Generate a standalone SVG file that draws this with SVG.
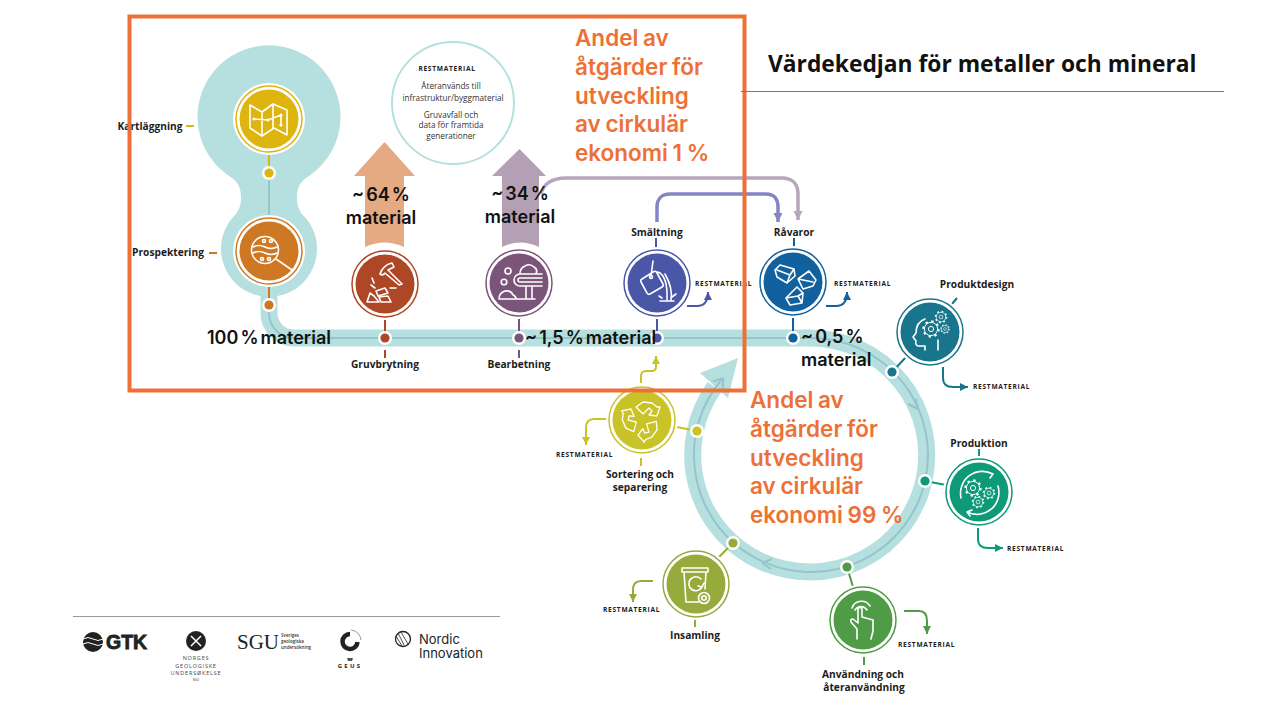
<svg xmlns="http://www.w3.org/2000/svg" width="1280" height="720" viewBox="0 0 1280 720">
<style>
text{font-family:"Open Sans","Liberation Sans",sans-serif}
.lb{font-weight:700;font-size:10.2px;fill:#1c1c1c;text-anchor:middle}
.rm{font-weight:700;font-size:6.6px;letter-spacing:.72px;fill:#1c1c1c}
.big{font-family:Inter,"Liberation Sans",sans-serif;font-weight:600;font-size:18px;word-spacing:-2.5px;fill:#111}
.or{font-family:Inter,"Liberation Sans",sans-serif;font-weight:600;font-size:22.5px;word-spacing:-1px;fill:#ED7136}
.sm{font-size:8.2px;fill:#333;text-anchor:middle}
.ic{fill:none;stroke:#fff;stroke-width:1.6;stroke-linejoin:round;stroke-linecap:round}
.l{fill:none;stroke-width:2;stroke-linecap:butt}
.halo{fill:#fff}
.logo{fill:#222}
</style>
<defs>
<g id="gear"><circle r="6.6" fill="none" stroke="#fff" stroke-width="1"/><circle r="7.7" fill="none" stroke="#fff" stroke-width="2" stroke-dasharray="2.4 3.64"/><circle r="2.600" fill="none" stroke="#fff" stroke-width="1"/></g>
<path id="recy" d="M636 407L643 402L652 403L657 407L660 407L657 416L649 415L652 411L649 408L643 414Z" fill="none" stroke="#fff" stroke-width="1.300" stroke-linejoin="round"/>
<marker id="mB" markerUnits="userSpaceOnUse" markerWidth="10" markerHeight="10" refX="8" refY="5" orient="auto"><path d="M0 1L8 5L0 9Z" fill="#4A56A6"/></marker>
<marker id="mD" markerUnits="userSpaceOnUse" markerWidth="10" markerHeight="10" refX="8" refY="5" orient="auto"><path d="M0 1L8 5L0 9Z" fill="#12619F"/></marker>
<marker id="mT" markerUnits="userSpaceOnUse" markerWidth="10" markerHeight="10" refX="8" refY="5" orient="auto"><path d="M0 1L8 5L0 9Z" fill="#18758B"/></marker>
<marker id="mG" markerUnits="userSpaceOnUse" markerWidth="10" markerHeight="10" refX="8" refY="5" orient="auto"><path d="M0 1L8 5L0 9Z" fill="#0E9A78"/></marker>
<marker id="mN" markerUnits="userSpaceOnUse" markerWidth="10" markerHeight="10" refX="8" refY="5" orient="auto"><path d="M0 1L8 5L0 9Z" fill="#509C46"/></marker>
<marker id="mO" markerUnits="userSpaceOnUse" markerWidth="10" markerHeight="10" refX="8" refY="5" orient="auto"><path d="M0 1L8 5L0 9Z" fill="#96AB3B"/></marker>
<marker id="mY" markerUnits="userSpaceOnUse" markerWidth="10" markerHeight="10" refX="8" refY="5" orient="auto"><path d="M0 1L8 5L0 9Z" fill="#C8C326"/></marker>
<marker id="mL" markerUnits="userSpaceOnUse" markerWidth="12" markerHeight="12" refX="9" refY="6" orient="auto"><path d="M0 1.500L9 6L0 10.500Z" fill="#8584C4"/></marker>
<marker id="mM" markerUnits="userSpaceOnUse" markerWidth="12" markerHeight="12" refX="9" refY="6" orient="auto"><path d="M0 1.500L9 6L0 10.500Z" fill="#B7A5BD"/></marker>
</defs>

<rect width="1280" height="720" fill="#fff"/>

<g id="band">
<path d="M232 178C240 184 241 191 241 198C241 205 239 210 236 214A48 48 0 1 0 302 214C299 210 297 205 297 198C297 191 298 184 306 178A71.5 71.5 0 1 0 232 178Z" fill="#B5E0DF"/>
<path d="M269 285V313A25 25 0 0 0 294 338H810A117 117 0 1 1 714.5 387" fill="none" stroke="#B5E0DF" stroke-width="17"/>
<path d="M738 358L700 373L728 398Z" fill="#B5E0DF"/>
<path d="M269 172V230M269 285V313A25 25 0 0 0 294 338H810A117 117 0 1 1 722 379" fill="none" stroke="#97C3CA" stroke-width="2"/>
<path d="M723.500 378L713 381.500M723.500 378L722.500 389" fill="none" stroke="#97C3CA" stroke-width="2"/>
<path d="M762 563L772 559M762 563L771 569M918 409L915.500 399M918 409L908 404" fill="none" stroke="#97C3CA" stroke-width="2"/>
</g>

<g id="connectors">
<path d="M541 194C543 184 552 178 566 178H782C792 178 798 184 798 194V220" fill="none" stroke="#B7A5BD" stroke-width="3.500" marker-end="url(#mM)"/>
<path d="M657 222V207C657 199 662 194 670 194H766C774 194 778 199 778 207V222" fill="none" stroke="#8584C4" stroke-width="3.500" marker-end="url(#mL)"/>
<path class="l" stroke="#4A56A6" d="M687 306H697C704 306 708 302 708 292" marker-end="url(#mB)"/>
<path class="l" stroke="#12619F" d="M826 306H836C843 306 847 302 847 292" marker-end="url(#mD)"/>
<path class="l" stroke="#18758B" d="M943 367V378C943 384 947 387 953 387H968" marker-end="url(#mT)"/>
<path class="l" stroke="#0E9A78" d="M978 528V539C978 545 982 548 988 548H1003" marker-end="url(#mG)"/>
<path class="l" stroke="#509C46" d="M904 611H919C925 611 927 615 927 621V634" marker-end="url(#mN)"/>
<path class="l" stroke="#96AB3B" d="M653 581H641C636 581 633 584 633 590V602" marker-end="url(#mO)"/>
<path class="l" stroke="#C8C326" d="M607 419H594C589 419 586 422 586 428V445" marker-end="url(#mY)"/>
<path class="l" stroke="#C8C326" d="M641 383V376C641 373 643 371 646 371H652C655 371 656 369 656 366V356" marker-end="url(#mY)"/>
</g>

<g id="arrow-64"><path d="M384.500 142L415 176H404V247Q385 238 365 247V176H354Z" fill="#E5AA82"/></g>
<g id="arrow-34"><path d="M519.500 149L546 176H539V247Q520 238 502 247V176H492Z" fill="#B3A0B4"/></g>

<g id="restmaterial-info">
<circle cx="453" cy="103" r="61" fill="#fff" stroke="#B5E0DF" stroke-width="2"/>
<text class="rm" x="447" y="71" text-anchor="middle">RESTMATERIAL</text>
<text class="sm" x="451" y="89">Återanvänds till</text>
<text class="sm" x="453" y="101">infrastruktur/byggmaterial</text>
<text class="sm" x="451" y="118">Gruvavfall och</text>
<text class="sm" x="451" y="128">data för framtida</text>
<text class="sm" x="451" y="139">generationer</text>
</g>

<g id="node-kartlaggning">
<path class="l" stroke="#DEB40E" d="M269 152V173M186 126H194"/>
<circle class="halo" cx="269" cy="173" r="7"/><circle cx="269" cy="173" r="4.600" fill="#DEB40E"/>
<circle class="halo" cx="269" cy="119" r="36"/><circle cx="269" cy="119" r="33" fill="none" stroke="#DEB40E" stroke-width="1.500"/><circle cx="269" cy="119" r="29.500" fill="#DEB40E"/>
<path class="ic" d="M250 105L262 112L273 104L287 110V135L274 128L262 136L250 128ZM262 112V136M273 104V128M254 119L268 120L281 115V125"/>
<circle cx="254" cy="119" r="1.600" fill="#fff"/><circle cx="268" cy="120" r="1.600" fill="#fff"/><circle cx="281" cy="115" r="1.600" fill="#fff"/><circle cx="281" cy="125" r="1.600" fill="#fff"/>
<text class="lb" x="150" y="130">Kartläggning</text>
</g>

<g id="node-prospektering">
<path class="l" stroke="#CF7823" d="M269 285V304M209 253H217"/>
<circle class="halo" cx="269" cy="305" r="7"/><circle cx="269" cy="305" r="4.600" fill="#CF7823"/>
<circle class="halo" cx="269" cy="251" r="36"/><circle cx="269" cy="251" r="33" fill="none" stroke="#CF7823" stroke-width="1.500"/><circle cx="269" cy="251" r="29.500" fill="#CF7823"/>
<circle class="ic" cx="265" cy="250" r="13.500" stroke-width="2"/>
<path class="ic" d="M276 259L292 270" stroke-width="4"/>
<path class="ic" d="M253 247Q259 244 265 247T277 247M253 253Q259 250 265 253T277 253" stroke-width="1.200"/>
<circle class="ic" cx="264" cy="241" r="1.500" stroke-width="1"/><circle class="ic" cx="271" cy="241" r="1.500" stroke-width="1"/><circle class="ic" cx="262" cy="259" r="1.500" stroke-width="1"/><circle class="ic" cx="269" cy="259" r="1.500" stroke-width="1"/>
<text class="lb" x="168" y="256">Prospektering</text>
</g>

<g id="node-gruvbrytning">
<path class="l" stroke="#AE4726" d="M385 317V338M385 350V358"/>
<circle class="halo" cx="385" cy="338" r="7"/><circle cx="385" cy="338" r="4.600" fill="#AE4726"/>
<circle class="halo" cx="385" cy="284" r="36"/><circle cx="385" cy="284" r="33" fill="none" stroke="#AE4726" stroke-width="1.500"/><circle cx="385" cy="284" r="29.500" fill="#AE4726"/>
<path class="ic" d="M380 274Q383 265 392 263L394 267L388 270L402 284L399 285L385 273Q383 276 380 274Z"/>
<path class="ic" d="M367 302L370 293L374 296L379 302ZM376 291L385 288L388 293L378 296ZM381 302L379 297L388 296L391 302ZM371 285L375 288M372 278L374 283M390 288H396" stroke-width="1.300"/>
<text class="lb" x="385" y="368">Gruvbrytning</text>
</g>

<g id="node-bearbetning">
<path class="l" stroke="#7B5479" d="M519 317V338M519 350V358"/>
<circle class="halo" cx="519" cy="338" r="7"/><circle cx="519" cy="338" r="4.600" fill="#7B5479"/>
<circle class="halo" cx="519" cy="283" r="36"/><circle cx="519" cy="283" r="33" fill="none" stroke="#7B5479" stroke-width="1.500"/><circle cx="519" cy="283" r="29.500" fill="#7B5479"/>
<path class="ic" d="M542 274H520A6 6 0 0 0 520 286H542M542 278H520A2 2 0 0 0 520 282H542M526 286V298M532 286V298M523 286H535M499 299H535M499 299Q499 293 505 291Q511 290 513 295Q516 296 516 299M520 274Q520 268 525 266Q530 263 534 267Q538 269 536 274" stroke-width="1.300"/>
<circle class="ic" cx="508" cy="271" r="3" stroke-width="1.300"/><circle class="ic" cx="504" cy="282" r="2.800" stroke-width="1.300"/>
<text class="lb" x="519" y="368">Bearbetning</text>
</g>

<g id="node-smaltning">
<path class="l" stroke="#4A56A6" d="M657 317V338M656 238V247"/>
<circle class="halo" cx="657" cy="338" r="7"/><circle cx="657" cy="338" r="4.600" fill="#4A56A6"/>
<circle class="halo" cx="657" cy="283" r="36"/><circle cx="657" cy="283" r="33" fill="none" stroke="#4A56A6" stroke-width="1.500"/><circle cx="657" cy="283" r="29.500" fill="#4A56A6"/>
<path class="ic" d="M653 272L642 279Q640 280 641 282L647 293Q648 295 650 294L662 287Q664 286 663 284L657 273Q656 270 653 272ZM653 261L651 276M658 272Q668 276 667 300M671 300Q673 288 665 274M660 301H674M659 296L662 298M676 294L672 297" stroke-width="1.400"/>
<circle class="ic" cx="651" cy="277" r="1.500" stroke-width="1"/>
<text class="lb" x="657" y="236">Smältning</text>
<text class="rm" x="695" y="286">RESTMATERIAL</text>
</g>

<g id="node-ravaror">
<path class="l" stroke="#12619F" d="M793 317V338M794 238V246"/>
<circle class="halo" cx="793" cy="338" r="7"/><circle cx="793" cy="338" r="4.600" fill="#12619F"/>
<circle class="halo" cx="793" cy="282" r="36"/><circle cx="793" cy="282" r="33" fill="none" stroke="#12619F" stroke-width="1.500"/><circle cx="793" cy="282" r="29.500" fill="#12619F"/>
<path class="ic" d="M775 270L780 265L794 269L795 276L787 283L777 277ZM777 270L790 275L787 283M790 275L794 269M798 279L809 271L816 280L813 286L803 289ZM798 279L813 282M786 298L797 287L803 293L802 303L790 305ZM786 298L798 296L802 303M798 296L803 293" stroke-width="1.100"/>
<text class="lb" x="794" y="236">Råvaror</text>
<text class="rm" x="834" y="286">RESTMATERIAL</text>
</g>

<g id="node-produktdesign">
<path class="l" stroke="#18758B" d="M892 372L907 356M957 298L952 304"/>
<circle class="halo" cx="892" cy="372" r="7"/><circle cx="892" cy="372" r="4.600" fill="#18758B"/>
<circle class="halo" cx="930" cy="332" r="36"/><circle cx="930" cy="332" r="33" fill="none" stroke="#18758B" stroke-width="1.500"/><circle cx="930" cy="332" r="29.500" fill="#18758B"/>
<path class="ic" d="M925 350V346H918Q915 345 916 341L913 337L916 333Q916 322 925 319M938 340V350" stroke-width="1.200"/>
<use href="#gear" transform="translate(931 329)"/>
<use href="#gear" transform="translate(941 317) scale(.72)"/>
<use href="#gear" transform="translate(945 329) scale(.55)"/>
<text class="lb" x="977" y="288">Produktdesign</text>
<text class="rm" x="973" y="389">RESTMATERIAL</text>
</g>

<g id="node-produktion">
<path class="l" stroke="#0E9A78" d="M925 481L946 485M979 449V456"/>
<circle class="halo" cx="925" cy="481" r="7"/><circle cx="925" cy="481" r="4.600" fill="#0E9A78"/>
<circle class="halo" cx="979" cy="492" r="36"/><circle cx="979" cy="492" r="33" fill="none" stroke="#0E9A78" stroke-width="1.500"/><circle cx="979" cy="492" r="29.500" fill="#0E9A78"/>
<path class="ic" d="M961 498A22 22 0 0 1 993 474M998 486A22 22 0 0 1 967 512M993 474L987 472M993 474L990 478M967 512L972 510M967 512L970 516" stroke-width="1.200"/>
<use href="#gear" transform="translate(973 488)"/>
<use href="#gear" transform="translate(989 493) scale(.72)"/>
<use href="#gear" transform="translate(978 502) scale(.72)"/>
<text class="lb" x="979" y="447">Produktion</text>
<text class="rm" x="1007" y="551">RESTMATERIAL</text>
</g>

<g id="node-anvandning">
<path class="l" stroke="#509C46" d="M847 567L853 587M864 657V665"/>
<circle class="halo" cx="847" cy="567" r="7"/><circle cx="847" cy="567" r="4.600" fill="#509C46"/>
<circle class="halo" cx="863" cy="620" r="36"/><circle cx="863" cy="620" r="33" fill="none" stroke="#509C46" stroke-width="1.500"/><circle cx="863" cy="620" r="29.500" fill="#509C46"/>
<path class="ic" d="M857 639V629L851 622Q850 619 853 619L858 623V609Q860 606 862 609V617L873 620V631L871 639M855 610A7 7 0 0 1 867 610M852 608A10 10 0 0 1 870 606" stroke-width="1.300"/>
<text class="lb" x="863" y="678">Användning och</text>
<text class="lb" x="864" y="691">återanvändning</text>
<text class="rm" x="898" y="647">RESTMATERIAL</text>
</g>

<g id="node-insamling">
<path class="l" stroke="#96AB3B" d="M733 543L718 558M695 619V627"/>
<circle class="halo" cx="733" cy="543" r="7"/><circle cx="733" cy="543" r="4.600" fill="#96AB3B"/>
<circle class="halo" cx="696" cy="584" r="36"/><circle cx="696" cy="584" r="33" fill="none" stroke="#96AB3B" stroke-width="1.500"/><circle cx="696" cy="584" r="29.500" fill="#96AB3B"/>
<path class="ic" d="M682 568H708V572H682ZM684 572L686 602H699M706 572L705 589M701 579A7 7 0 1 0 702 587M702 587L698 586M702 587L704 583" stroke-width="1.300"/>
<circle class="ic" cx="704" cy="598" r="5.500" stroke-width="1.300"/><circle class="ic" cx="704" cy="598" r="2.200" stroke-width="1.100"/>
<text class="lb" x="695" y="639">Insamling</text>
<text class="rm" x="603" y="612">RESTMATERIAL</text>
</g>

<g id="node-sortering">
<path class="l" stroke="#C8C326" d="M697 431L677 427M641 458V466"/>
<circle class="halo" cx="697" cy="431" r="7"/><circle cx="697" cy="431" r="4.600" fill="#C8C326"/>
<circle class="halo" cx="642" cy="420" r="36"/><circle cx="642" cy="420" r="33" fill="none" stroke="#C8C326" stroke-width="1.500"/><circle cx="642" cy="420" r="29.500" fill="#C8C326"/>
<use href="#recy"/><use href="#recy" transform="rotate(120 642 420)"/><use href="#recy" transform="rotate(240 642 420)"/>
<text class="lb" x="640" y="478">Sortering och</text>
<text class="lb" x="640" y="491">separering</text>
<text class="rm" x="556" y="457">RESTMATERIAL</text>
</g>

<g id="percent-labels">
<text class="big" x="381" y="201" text-anchor="middle">~ 64 %</text>
<text class="big" x="381" y="224" text-anchor="middle">material</text>
<text class="big" x="520" y="200" text-anchor="middle">~ 34 %</text>
<text class="big" x="520" y="223" text-anchor="middle">material</text>
<text class="big" x="207" y="344">100 % material</text>
<text class="big" x="525" y="344">~ 1,5 % material</text>
<text class="big" x="801" y="343">~ 0,5 %</text>
<text class="big" x="801" y="366">material</text>
</g>

<g id="frame"><rect x="129.500" y="16.500" width="615" height="374" fill="none" stroke="#ED7136" stroke-width="4"/></g>

<g id="share-1">
<text class="or" x="575" y="46">Andel av</text>
<text class="or" x="575" y="75">åtgärder för</text>
<text class="or" x="575" y="104">utveckling</text>
<text class="or" x="575" y="132">av cirkulär</text>
<text class="or" x="575" y="161">ekonomi 1 %</text>
</g>
<g id="share-99">
<text class="or" x="750" y="408">Andel av</text>
<text class="or" x="750" y="437">åtgärder för</text>
<text class="or" x="750" y="466">utveckling</text>
<text class="or" x="750" y="494">av cirkulär</text>
<text class="or" x="750" y="523">ekonomi 99 %</text>
</g>

<g id="title">
<text x="768" y="72" font-size="22.800" font-weight="700" fill="#111">Värdekedjan för metaller och mineral</text>
<path d="M741 91.500H1224" stroke="#777" stroke-width="1"/>
</g>

<g id="logos">
<path d="M73 616.500H500" stroke="#999" stroke-width="1"/>
<circle class="logo" cx="93" cy="642" r="10"/>
<path d="M83 639Q88 636 93 639T103 639M83 644Q88 641 93 644T103 644" fill="none" stroke="#fff" stroke-width="1"/>
<text x="106" y="649" font-size="19.500" font-weight="700" fill="#222" stroke="#222" stroke-width=".8" style="font-family:'Liberation Sans',sans-serif">GTK</text>
<circle class="logo" cx="196" cy="641" r="10"/>
<path d="M191 636L201 646M201 636L191 646" stroke="#fff" stroke-width="1.500"/>
<text x="196" y="660" font-size="5.500" letter-spacing=".8" text-anchor="middle" fill="#444">NORGES</text>
<text x="196" y="667.500" font-size="5.500" letter-spacing=".8" text-anchor="middle" fill="#444">GEOLOGISKE</text>
<text x="196" y="675" font-size="5.500" letter-spacing=".8" text-anchor="middle" fill="#444">UNDERSØKELSE</text>
<text x="196" y="681" font-size="3" text-anchor="middle" fill="#444">NGU</text>
<text x="237" y="649" font-size="21" fill="#222" style="font-family:'Liberation Serif',serif">SGU</text>
<text x="281" y="637" font-size="4.500" font-weight="600" fill="#333">Sveriges</text>
<text x="281" y="643" font-size="4.500" font-weight="600" fill="#333">geologiska</text>
<text x="281" y="649" font-size="4.500" font-weight="600" fill="#333">undersökning</text>
<path d="M350 634A7.500 7.500 0 1 0 357.500 642" fill="none" stroke="#222" stroke-width="4.500"/>
<path d="M351 630A11 11 0 0 1 361 640" fill="none" stroke="#999" stroke-width="1"/>
<path d="M347 658H353L352 661H348Z" fill="#555"/>
<text x="350" y="668" font-size="6" font-weight="700" letter-spacing="2.200" text-anchor="middle" fill="#222">GEUS</text>
<circle cx="403" cy="639" r="7.500" fill="none" stroke="#222" stroke-width="1.300"/>
<path d="M398 633L404 645M396 636L402 646M401 632L408 644" fill="none" stroke="#222" stroke-width=".8"/>
<text x="419" y="644" font-size="13" fill="#222" style="font-family:Inter,sans-serif">Nordic</text>
<text x="419" y="658" font-size="13" fill="#222" style="font-family:Inter,sans-serif">Innovation</text>
</g>
</svg>
